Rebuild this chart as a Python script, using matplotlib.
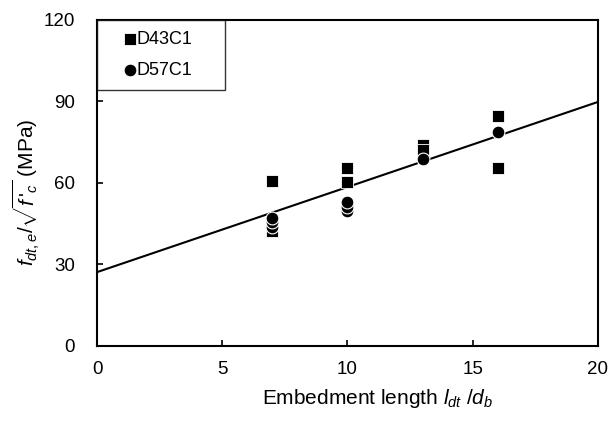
import numpy as np
import matplotlib
matplotlib.use("Agg")
import matplotlib.pyplot as plt

plt.rcParams['font.family'] = ['Liberation Sans', 'DejaVu Sans']
plt.rcParams['mathtext.fontset'] = 'custom'
plt.rcParams['mathtext.rm'] = 'Liberation Sans'
plt.rcParams['mathtext.it'] = 'Liberation Sans:italic'
plt.rcParams['mathtext.bf'] = 'Liberation Sans:bold'

# D43C1 (squares)
d43_x = [7, 7, 7, 10, 10, 13, 13, 16, 16]
d43_y = [60.7, 42.5, 45.0, 65.5, 60.5, 74.0, 72.0, 84.6, 65.5]

# D57C1 (circles)
d57_x = [7, 7, 7, 10, 10, 10, 13, 16]
d57_y = [43.8, 45.5, 47.0, 49.5, 51.0, 53.0, 68.8, 78.8]

# fitted line
fit_x = [0, 20]
fit_intercept = 27.2
fit_slope = 3.13

fig = plt.figure(figsize=(6.15, 4.24), dpi=100)
ax = fig.add_axes([0.158, 0.184, 0.814, 0.769])

xs = np.array(fit_x, dtype=float)
ax.plot(xs, fit_intercept + fit_slope * xs, color='black', lw=1.5, zorder=1)

ax.scatter(d43_x, d43_y, marker='s', s=75, color='black', edgecolor='white',
           linewidth=0.6, zorder=2, label='D43C1')
ax.scatter(d57_x, d57_y, marker='o', s=85, color='black', edgecolor='white',
           linewidth=0.8, zorder=3, label='D57C1')

ax.set_xlim(0, 20)
ax.set_ylim(0, 120)
ax.set_xticks([0, 5, 10, 15, 20])
ax.set_yticks([0, 30, 60, 90, 120])
ax.tick_params(direction='in', length=4, width=1.2, labelsize=13.5)
ax.tick_params(axis='x', pad=11)
ax.tick_params(axis='y', pad=16)
for s in ax.spines.values():
    s.set_linewidth(1.5)

ax.set_xlabel(r'Embedment length $l_{dt}\ /d_b$', fontsize=15)
ax.xaxis.set_label_coords(0.56, -0.125)
ax.set_ylabel(r"$f_{dt,e}/\sqrt{f\,'_c}$ (MPa)", fontsize=15)
ax.yaxis.set_label_coords(-0.11, 0.47)

leg = ax.legend(loc='upper left', bbox_to_anchor=(0, 0.7, 0.2555, 0.3),
                mode='expand', frameon=True, fancybox=False, fontsize=13,
                handletextpad=-0.8, handlelength=2.4, borderaxespad=0,
                labelspacing=0.8, borderpad=0.6, scatterpoints=1)
leg.get_frame().set_edgecolor('black')
leg.get_frame().set_linewidth(1.0)

fig.savefig('out.png', dpi=100)
